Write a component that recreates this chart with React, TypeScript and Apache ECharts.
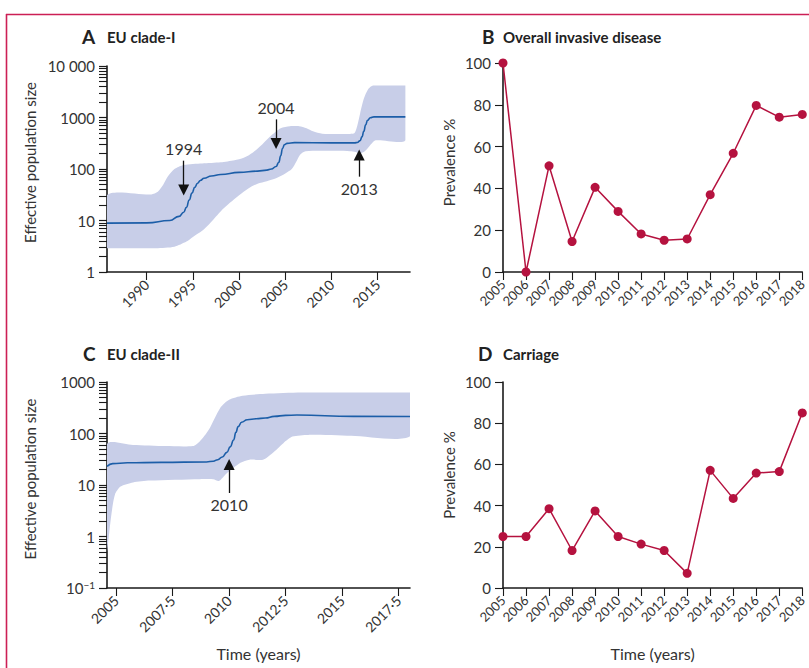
import React, { useEffect, useRef } from 'react';
import * as echarts from 'echarts';

// Panel A – EU clade-I (Bayesian skyline, median + 95% HPD)
const medAYears = [1985.7, 1990, 1992.5, 1993.5, 1994, 1994.3, 1994.6, 1994.9, 1995.2, 1995.5, 1995.8, 1996.2, 1997, 1998, 2000, 2002, 2003, 2003.5, 2004, 2004.3, 2004.5, 2004.7, 2004.9, 2005.2, 2006, 2010, 2012.5, 2012.8, 2013.1, 2013.3, 2013.5, 2013.7, 2013.9, 2014.2, 2014.6, 2018];
const medAValues = [8.9, 9, 10, 12, 14.5, 18, 25, 34, 44, 53, 60, 66, 73, 78, 86, 91, 95, 100, 112, 135, 180, 250, 295, 315, 325, 322, 322, 328, 355, 420, 540, 720, 880, 990, 1030, 1030];
const hiAYears = [1985.7, 1990.5, 1991.2, 1991.8, 1992.3, 1993, 1994, 1996, 1998, 1999.5, 2000.5, 2001.5, 2002.5, 2003.5, 2004.5, 2005.5, 2006.5, 2007.3, 2008, 2009, 2012, 2012.5, 2012.8, 2013.1, 2013.5, 2014, 2014.5, 2018];
const hiAValues = [31, 32, 36, 50, 72, 100, 120, 128, 135, 148, 165, 210, 300, 450, 620, 680, 680, 620, 540, 485, 480, 500, 700, 1200, 2300, 3600, 4200, 4200];
const loAYears = [1985.7, 1991, 1993, 1994.3, 1995, 1996, 1997, 1998, 1999, 2000, 2001, 2002, 2003, 2004, 2005, 2005.7, 2006.2, 2006.6, 2007.2, 2012, 2012.6, 2013.1, 2013.6, 2014.1, 2014.8, 2018];
const loAValues = [2.9, 2.9, 3.1, 3.9, 4.8, 6.3, 9.5, 15, 22, 31, 42, 52, 58, 66, 82, 100, 140, 190, 222, 222, 215, 200, 220, 277, 360, 363];
const arrowAYears = [1994, 2004, 2013];
const arrowAFrom = [145, 920, 71];
const arrowATo = [39, 313, 187];
const arrowALabels = ['1994', '2004', '2013'];
const aTickYears = [1990, 1995, 2000, 2005, 2010, 2015];
const aDecades = [1, 10, 100, 1000, 10000];

// Panel C – EU clade-II
const medCYears = [2004.6, 2004.85, 2005.5, 2007, 2009, 2009.3, 2009.5, 2009.7, 2009.9, 2010.05, 2010.2, 2010.3, 2010.4, 2010.55, 2010.8, 2011.2, 2011.6, 2012, 2012.5, 2013, 2015.5, 2018];
const medCValues = [23, 26, 27, 27.5, 28, 29, 31, 35, 43, 55, 75, 105, 136, 165, 185, 193, 200, 215, 225, 228, 215, 214];
const hiCYears = [2004.6, 2005.75, 2007.2, 2008.4, 2008.7, 2009.1, 2009.6, 2010.0, 2010.6, 2011.6, 2013.2, 2018];
const hiCValues = [62, 60, 57, 57, 70, 118, 310, 450, 540, 590, 625, 625];
const loCYears = [2004.6, 2004.7, 2004.8, 2004.95, 2005.2, 2005.75, 2006.5, 2008.7, 2009.3, 2009.55, 2009.9, 2010.5, 2010.9, 2011.5, 2011.9, 2012.4, 2012.8, 2013.5, 2015.4, 2018];
const loCValues = [0.5, 1.2, 2.8, 6.5, 9.3, 11.2, 12.2, 13, 13, 12, 17, 27, 31, 31, 41, 65, 87, 94, 90, 88];
const arrowCYears = [2010];
const arrowCFrom = [7];
const arrowCTo = [25];
const arrowCLabels = ['2010'];
const cTickYears = [2005, 2007.5, 2010, 2012.5, 2015, 2017.5];
const cDecades = [0.1, 1, 10, 100, 1000];

// Panels B and D – prevalence (%)
const prevYears = [2005, 2006, 2007, 2008, 2009, 2010, 2011, 2012, 2013, 2014, 2015, 2016, 2017, 2018];
const invasiveValues = [100, 0, 50.8, 14.6, 40.5, 29, 18.2, 15.2, 15.8, 37, 56.8, 79.7, 74.1, 75.4];
const carriageValues = [25, 25, 38.5, 18.2, 37.4, 25, 21.3, 18.2, 7.1, 57.1, 43.5, 55.8, 56.5, 85];

const FONT = 'Lato, "Noto Sans", "DejaVu Sans", sans-serif';
const AX = '#1a1a1a';
const TXT = '#333333';
const BAND = '#c8cee8';
const MED = '#1c5ea8';
const RED = '#b5123f';

const minorLogs = (decades: number[]) => {
  const out: number[] = [];
  for (let i = 0; i < decades.length - 1; i++) {
    for (let k = 1; k <= 9; k++) out.push(Math.log10(k * decades[i]));
  }
  out.push(Math.log10(decades[decades.length - 1]));
  return out;
};

const axisLine = { show: true, onZero: false, lineStyle: { color: AX, width: 1.6 } };
const tickStyle = { color: AX, width: 1.1 };

function bandSeries(xIdx: number, yIdx: number, hx: number[], hv: number[], lx: number[], lv: number[]) {
  return {
    type: 'custom',
    xAxisIndex: xIdx,
    yAxisIndex: yIdx,
    silent: true,
    z: 1,
    data: hx.map((x, i) => [x, hv[i]]),
    encode: { x: 0, y: 1 },
    renderItem: (params: any, api: any) => {
      if (params.dataIndex !== 0) return null;
      const pts: number[][] = [];
      hx.forEach((x, i) => pts.push(api.coord([x, hv[i]])));
      for (let i = lx.length - 1; i >= 0; i--) pts.push(api.coord([lx[i], lv[i]]));
      let minX = Infinity, minY = Infinity, maxX = -Infinity, maxY = -Infinity;
      pts.forEach((p) => {
        minX = Math.min(minX, p[0]); minY = Math.min(minY, p[1]);
        maxX = Math.max(maxX, p[0]); maxY = Math.max(maxY, p[1]);
      });
      return {
        type: 'polygon',
        shape: { points: pts, smooth: 0.25, smoothConstraint: [[minX, minY], [maxX, maxY]] },
        style: { fill: BAND, stroke: null },
      };
    },
  };
}

function medianSeries(xIdx: number, yIdx: number, xs: number[], vs: number[], ay: number[], af: number[], at: number[], al: string[]) {
  return {
    type: 'line',
    xAxisIndex: xIdx,
    yAxisIndex: yIdx,
    z: 3,
    silent: true,
    showSymbol: false,
    smooth: 0.5,
    smoothMonotone: 'x',
    data: xs.map((x, i) => [x, vs[i]]),
    lineStyle: { color: MED, width: 1.6 },
    markLine: {
      silent: true,
      animation: false,
      symbol: ['none', 'triangle'],
      symbolSize: 11,
      lineStyle: { color: '#111', width: 1.3, type: 'solid' },
      label: { show: true, position: 'start', fontSize: 16, color: TXT, fontFamily: FONT, distance: 4 },
      emphasis: { disabled: true },
      data: ay.map((y, i) => [
        { coord: [y, af[i]], label: { formatter: al[i] } },
        { coord: [y, at[i]] },
      ]),
    },
  };
}

function prevSeries(xIdx: number, yIdx: number, vals: number[]) {
  return {
    type: 'line',
    xAxisIndex: xIdx,
    yAxisIndex: yIdx,
    silent: true,
    symbol: 'circle',
    symbolSize: 9,
    data: prevYears.map((y, i) => [y, vals[i]]),
    itemStyle: { color: RED },
    lineStyle: { color: RED, width: 1.5 },
  };
}

const titleRich = (w: number) => ({
  l: { fontSize: 19, fontWeight: 'bold', color: '#222', width: w, fontFamily: FONT },
  t: { fontSize: 15, fontWeight: 'bold', color: '#222', fontFamily: FONT },
});

const yearXAxis = (grid: number, withName: boolean) => ({
  gridIndex: grid,
  type: 'value',
  min: 2005,
  max: 2018,
  interval: 1,
  axisLine,
  axisTick: { show: true, length: 8, lineStyle: tickStyle },
  axisLabel: { rotate: 45, fontSize: 13, color: TXT, margin: 10, fontFamily: FONT, formatter: (v: number) => String(v) },
  splitLine: { show: false },
  ...(withName
    ? { name: 'Time (years)', nameLocation: 'middle', nameGap: 57, nameTextStyle: { fontSize: 16, color: TXT, fontFamily: FONT } }
    : {}),
});

const prevYAxis = (grid: number, pad: number) => ({
  gridIndex: grid,
  type: 'value',
  min: 0,
  max: 100,
  interval: 20,
  axisLine,
  axisTick: { show: true, length: 8, lineStyle: tickStyle },
  axisLabel: { fontSize: 15, color: TXT, margin: 12, fontFamily: FONT },
  splitLine: { show: false },
  name: 'Prevalence %',
  nameLocation: 'middle',
  nameGap: 47,
  nameTextStyle: { fontSize: 15, color: TXT, fontFamily: FONT, padding: [0, 0, 0, pad] },
});

const option: any = {
  animation: false,
  backgroundColor: '#ffffff',
  textStyle: { fontFamily: FONT },
  graphic: [
    { type: 'line', silent: true, shape: { x1: 6, y1: 14.5, x2: 809, y2: 14.5 }, style: { stroke: '#cc1f55', lineWidth: 1.6 } },
    { type: 'line', silent: true, shape: { x1: 6.5, y1: 14, x2: 6.5, y2: 668 }, style: { stroke: '#cc1f55', lineWidth: 1.6 } },
  ],
  title: [
    { left: 82, top: 27, padding: 0, text: '{l|A}{t|EU clade-I}', textStyle: { rich: titleRich(25) } },
    { left: 482, top: 27, padding: 0, text: '{l|B}{t|Overall invasive disease}', textStyle: { rich: titleRich(21) } },
    { left: 83, top: 344, padding: 0, text: '{l|C}{t|EU clade-II}', textStyle: { rich: titleRich(24) } },
    { left: 478, top: 344, padding: 0, text: '{l|D}{t|Carriage}', textStyle: { rich: titleRich(25) } },
  ],
  grid: [
    { left: 107, top: 66, width: 303, height: 206 },
    { left: 503, top: 63, width: 301, height: 209 },
    { left: 107, top: 382, width: 303, height: 206 },
    { left: 503, top: 382, width: 301, height: 206 },
  ],
  xAxis: [
    {
      gridIndex: 0,
      type: 'value',
      min: 1985.7,
      max: 2018.5,
      axisLine,
      axisTick: { show: true, length: 8, lineStyle: tickStyle, customValues: aTickYears },
      axisLabel: { customValues: aTickYears, rotate: 45, fontSize: 14, color: TXT, margin: 10, fontFamily: FONT, formatter: (v: number) => String(v) },
      splitLine: { show: false },
    },
    yearXAxis(1, false),
    {
      gridIndex: 2,
      type: 'value',
      min: 2004.6,
      max: 2018,
      axisLine,
      axisTick: { show: true, length: 8, lineStyle: tickStyle, customValues: cTickYears },
      axisLabel: {
        customValues: cTickYears,
        rotate: 45,
        fontSize: 14,
        color: TXT,
        margin: 10,
        fontFamily: FONT,
        formatter: (v: number) => String(v).replace('.', '·'),
      },
      splitLine: { show: false },
      name: 'Time (years)',
      nameLocation: 'middle',
      nameGap: 57,
      nameTextStyle: { fontSize: 16, color: TXT, fontFamily: FONT },
    },
    yearXAxis(3, true),
  ],
  yAxis: [
    {
      gridIndex: 0,
      type: 'log',
      logBase: 10,
      min: aDecades[0],
      max: aDecades[aDecades.length - 1],
      position: 'left',
      axisLine,
      axisTick: { show: true, length: 8, lineStyle: tickStyle },
      axisLabel: { fontSize: 15, color: TXT, margin: 12, fontFamily: FONT, formatter: (v: number) => (v >= 9999 ? '10 000' : String(Math.round(v))) },
      splitLine: { show: false },
      name: 'Effective population size',
      nameLocation: 'middle',
      nameGap: 70,
      nameTextStyle: { fontSize: 15, color: TXT, fontFamily: FONT, padding: [0, 0, 0, 13] },
    },
    {
      gridIndex: 0,
      type: 'value',
      min: Math.log10(aDecades[0]),
      max: Math.log10(aDecades[aDecades.length - 1]),
      position: 'left',
      axisLine: { show: false },
      axisTick: { show: true, length: 8, lineStyle: tickStyle, customValues: minorLogs(aDecades) },
      axisLabel: { show: false },
      splitLine: { show: false },
    },
    prevYAxis(1, 10),
    {
      gridIndex: 2,
      type: 'log',
      logBase: 10,
      min: cDecades[0],
      max: cDecades[cDecades.length - 1],
      position: 'left',
      axisLine,
      axisTick: { show: true, length: 8, lineStyle: tickStyle },
      axisLabel: {
        fontSize: 15,
        color: TXT,
        margin: 12,
        fontFamily: FONT,
        formatter: (v: number) => (v < 0.5 ? '10{sup|−1}' : String(Math.round(v))),
        rich: { sup: { fontSize: 10, verticalAlign: 'top', color: TXT, fontFamily: FONT, padding: [0, 0, 6, 0] } },
      },
      splitLine: { show: false },
      name: 'Effective population size',
      nameLocation: 'middle',
      nameGap: 70,
      nameTextStyle: { fontSize: 15, color: TXT, fontFamily: FONT, padding: [0, 0, 0, 12] },
    },
    {
      gridIndex: 2,
      type: 'value',
      min: Math.log10(cDecades[0]),
      max: Math.log10(cDecades[cDecades.length - 1]),
      position: 'left',
      axisLine: { show: false },
      axisTick: { show: true, length: 8, lineStyle: tickStyle, customValues: minorLogs(cDecades) },
      axisLabel: { show: false },
      splitLine: { show: false },
    },
    prevYAxis(3, 20),
  ],
  series: [
    bandSeries(0, 0, hiAYears, hiAValues, loAYears, loAValues),
    medianSeries(0, 0, medAYears, medAValues, arrowAYears, arrowAFrom, arrowATo, arrowALabels),
    prevSeries(1, 2, invasiveValues),
    bandSeries(2, 3, hiCYears, hiCValues, loCYears, loCValues),
    medianSeries(2, 3, medCYears, medCValues, arrowCYears, arrowCFrom, arrowCTo, arrowCLabels),
    prevSeries(3, 5, carriageValues),
  ],
};

export default function App() {
  const ref = useRef<HTMLDivElement>(null);
  useEffect(() => {
    if (!ref.current) return;
    const chart = echarts.init(ref.current, null, { renderer: 'svg' });
    chart.setOption(option);
    return () => chart.dispose();
  }, []);
  return (
    <div
      ref={ref}
      style={{ position: 'fixed', left: 0, top: 0, width: 809, height: 668, background: '#fff' }}
    />
  );
}
